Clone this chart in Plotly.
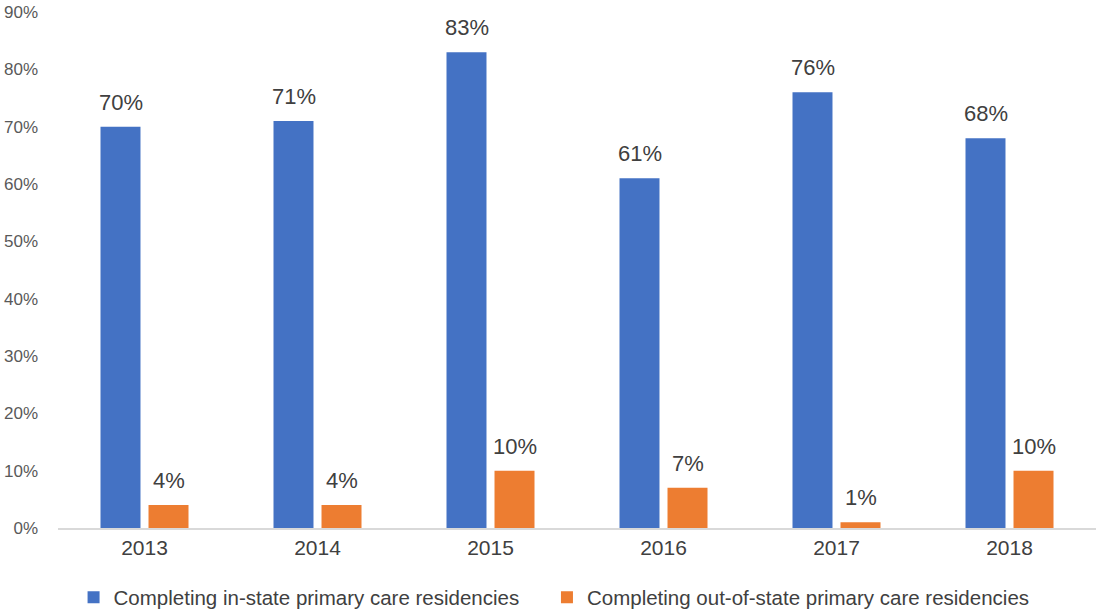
import plotly.graph_objects as go

years = ["2013", "2014", "2015", "2016", "2017", "2018"]
in_state = [0.70, 0.71, 0.83, 0.61, 0.76, 0.68]
out_state = [0.04, 0.04, 0.10, 0.07, 0.01, 0.10]
series_names = ["Completing in-state primary care residencies",
                "Completing out-of-state primary care residencies"]
y_ticks = [0, 0.1, 0.2, 0.3, 0.4, 0.5, 0.6, 0.7, 0.8, 0.9]
y_tick_labels = ["0%", "10%", "20%", "30%", "40%", "50%", "60%", "70%", "80%", "90%"]

BLUE = "#4472C4"
ORANGE = "#ED7D31"
FONT = "Liberation Sans"
PAD = "\u00a0" * 4  # spacing between the two legend entries

fig = go.Figure()
fig.add_trace(go.Bar(x=years, y=in_state, name=series_names[0] + PAD,
                     marker=dict(color=BLUE, line=dict(width=0))))
fig.add_trace(go.Bar(x=years, y=out_state, name=series_names[1],
                     marker=dict(color=ORANGE, line=dict(width=0))))

annotations = []
for vals, shift in ((in_state, -24), (out_state, 24)):
    for i, v in enumerate(vals):
        annotations.append(dict(x=i, y=v, xref="x", yref="y",
                                text=f"{round(v*100)}%", showarrow=False,
                                xshift=shift, yshift=10, yanchor="bottom",
                                font=dict(family=FONT, size=22, color="#404040")))

fig.update_layout(
    width=1096, height=609,
    margin=dict(l=58, r=0, t=12, b=81, autoexpand=False),
    plot_bgcolor="white", paper_bgcolor="white",
    barmode="group", bargap=0.445, bargroupgap=0.167,
    font=dict(family=FONT, color="#595959"),
    showlegend=True,
    legend=dict(orientation="h", x=0.015, xanchor="left", y=-0.1347, yanchor="middle",
                font=dict(family=FONT, size=20.5, color="#404040"),
                itemwidth=30, traceorder="normal",
                bgcolor="rgba(0,0,0,0)"),
    annotations=annotations,
    xaxis=dict(type="category", range=[-0.5, len(years) - 0.5], showgrid=False,
               automargin=False, showline=True, linecolor="#D9D9D9",
               linewidth=2, ticks="", ticklabelstandoff=0,
               tickfont=dict(family=FONT, size=21, color="#404040")),
    yaxis=dict(range=[0, 0.9], tickvals=y_ticks, ticktext=y_tick_labels,
               automargin=False,
               showgrid=False, zeroline=False, showline=False, ticks="",
               ticklabelstandoff=19,
               tickfont=dict(family=FONT, size=17, color="#595959")),
)

fig.write_html(
    "out.html",
    config={"displayModeBar": False},
    post_script="document.body.style.margin='0';document.body.style.overflow='hidden';",
)
